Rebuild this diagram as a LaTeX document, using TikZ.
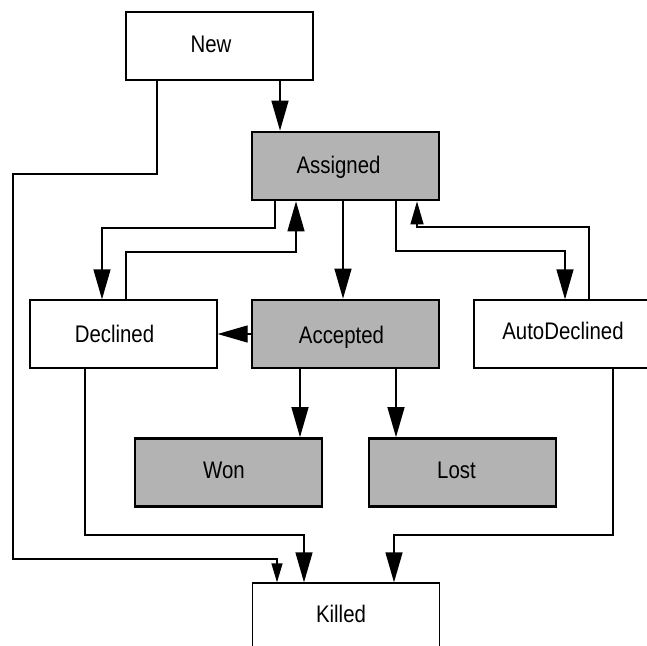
\documentclass[tikz,border=0pt]{standalone}
\usepackage{fontspec}
\setmainfont{Liberation Sans}[FakeStretch=0.85]
\usetikzlibrary{arrows.meta}
\definecolor{stategray}{RGB}{179,179,179}
\tikzset{
  x=1pt, y=-1pt,
  state/.style={rectangle, minimum width=187pt, minimum height=68pt, inner sep=0pt,
                draw=black, line width=1.3pt, fill=white},
  active/.style={state, fill=stategray, line width=2.7pt},
  txt/.style={anchor=base, inner sep=0pt, font=\fontsize{24}{28}\selectfont},
  conn/.style={line width=1.3pt, draw=black},
  big/.style={conn, -{Triangle[length=30pt,width=17pt]}},
  mid/.style={conn, -{Triangle[length=23pt,width=13pt]}},
  small/.style={conn, -{Triangle[length=19pt,width=11pt]}},
}
\begin{document}
\begin{tikzpicture}
\clip (0,0) rectangle (647,645);
\fill[white] (0,0) rectangle (647,645);

% states
\node[state]  (new)          at (219.5,46)    {};
\node[active] (assigned)     at (345.5,166)   {};
\node[state]  (declined)     at (123.5,334)   {};
\node[active] (accepted)     at (345.5,334)   {};
\node[state]  (autodeclined) at (567.5,334)   {};
\node[active] (won)          at (228.5,472.5) {};
\node[active] (lost)         at (462.5,472.5) {};
\node[state]  (killed)       at (346,617)     {};

% state names
\node[txt] (newtext)          at ([xshift=-8.5pt,yshift=-6pt]new.center)          {New};
\node[txt] (assignedtext)     at ([xshift=-7pt,yshift=-7pt]assigned.center)       {Assigned};
\node[txt] (declinedtext)     at ([xshift=-9pt,yshift=-8pt]declined.center)       {Declined};
\node[txt] (acceptedtext)     at ([xshift=-4pt,yshift=-9pt]accepted.center)       {Accepted};
\node[txt] (autodeclinedtext) at ([xshift=-4.5pt,yshift=-5pt]autodeclined.center) {AutoDeclined};
\node[txt] (wontext)          at ([xshift=-4.5pt,yshift=-5.5pt]won.center)        {Won};
\node[txt] (losttext)         at ([xshift=-6pt,yshift=-5.5pt]lost.center)         {Lost};
\node[txt] (killedtext)       at ([xshift=-5pt,yshift=-5pt]killed.center)         {Killed};

% transitions
\draw[big] ([xshift=60.5pt]new.south) -- ([xshift=60.5pt]new.south |- assigned.north);
\draw[small] ([xshift=-62.5pt]new.south) |- (13,174) |- (277,559) -- ([xshift=-69pt]killed.north);

\draw[big] ([xshift=-70.5pt]assigned.south) |- (102,228) -- ([xshift=-21.5pt]declined.north);
\draw[big] ([xshift=2.5pt]declined.north) |- (296,252) -- ([xshift=-49.5pt]assigned.south);

\draw[big] ([xshift=-2.5pt]assigned.south) -- ([xshift=-2.5pt]accepted.north);

\draw[big] ([xshift=50.5pt]assigned.south) |- (565,251) -- ([xshift=-2.5pt]autodeclined.north);
\draw[mid] ([xshift=21.5pt]autodeclined.north) |- (417,227) -- ([xshift=71.5pt]assigned.south);

\draw[big] (accepted.west) -- (declined.east);
\draw[big] ([xshift=-45.5pt]accepted.south) -- ([xshift=71.5pt]won.north);
\draw[big] ([xshift=50.5pt]accepted.south) -- ([xshift=-66.5pt]lost.north);

\draw[big] ([xshift=-38.5pt]declined.south) |- (304,535) -- ([xshift=-42pt]killed.north);
\draw[big] ([xshift=45.5pt]autodeclined.south) |- (394,535) -- ([xshift=48pt]killed.north);
\end{tikzpicture}
\end{document}
